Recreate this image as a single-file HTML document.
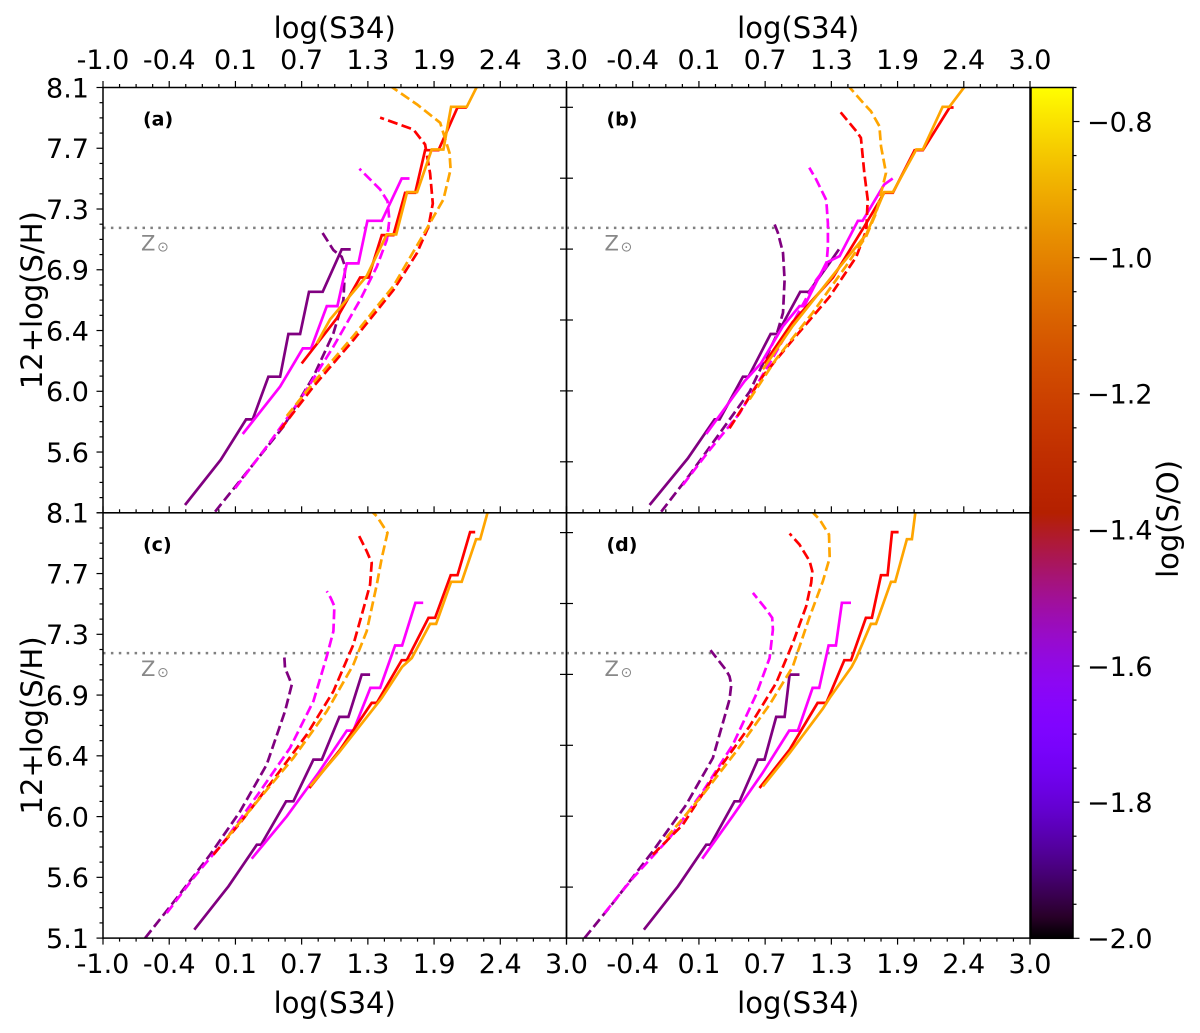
<!DOCTYPE html>
<html><head><meta charset="utf-8">
<style>
html,body{margin:0;padding:0;background:#fff;}
svg{display:block;font-family:"DejaVu Sans","Liberation Sans",sans-serif;}
</style></head>
<body>
<svg id="fig" width="1200" height="1033" viewBox="0 0 1200 1033" xmlns="http://www.w3.org/2000/svg">
<defs>
<linearGradient id="cbgrad" x1="0" y1="1" x2="0" y2="0"></linearGradient>
<clipPath id="clip-a"><rect x="103" y="87.5" width="463.5" height="425.3"/></clipPath>
<clipPath id="clip-b"><rect x="566.5" y="87.5" width="463.5" height="425.3"/></clipPath>
<clipPath id="clip-c"><rect x="103" y="512.8" width="463.5" height="425.3"/></clipPath>
<clipPath id="clip-d"><rect x="566.5" y="512.8" width="463.5" height="425.3"/></clipPath>
</defs>
</svg>
<script>
// ---- data ----
const xTickLabels = ["-1.0","-0.4","0.1","0.7","1.3","1.9","2.4","3.0"];
const yTickLabels = ["5.1","5.6","6.0","6.4","6.9","7.3","7.7","8.1"];
const cbTickValues = [-2.0,-1.8,-1.6,-1.4,-1.2,-1.0,-0.8];
const cbTickLabels = ["\u22122.0","\u22121.8","\u22121.6","\u22121.4","\u22121.2","\u22121.0","\u22120.8"];
const zsun = 7.11;
const panelNames = ["a","b","c","d"];
const seriesColors = {purple:"#800080", magenta:"#ff00ff", red:"#ff0000", orange:"#ffa500"};

const aPurpleSolid = [[-0.292,5.155],[0.016,5.473],[0.235,5.759],[0.292,5.759],[0.427,6.06],[0.528,6.06],[0.6,6.361],[0.701,6.361],[0.778,6.659],[0.896,6.659],[1.06,6.958],[1.138,6.958]];
const aPurpleDash = [[-0.033,5.108],[0.269,5.414],[0.557,5.708],[0.816,6.06],[0.988,6.366],[1.075,6.601],[1.089,6.836],[1.06,6.906],[0.988,6.953],[0.888,7.082]];
const aMagentaSolid = [[0.206,5.656],[0.528,5.99],[0.724,6.26],[0.796,6.26],[0.931,6.558],[1.023,6.558],[1.104,6.859],[1.204,6.859],[1.282,7.16],[1.406,7.16],[1.578,7.458],[1.645,7.458]];
const aMagentaDash = [[0.14,5.273],[0.413,5.567],[0.701,5.896],[0.988,6.272],[1.219,6.601],[1.363,6.836],[1.449,7.024],[1.472,7.165],[1.455,7.299],[1.391,7.381],[1.213,7.527]];
const aRedSolid = [[0.715,6.154],[1.017,6.471],[1.219,6.76],[1.291,6.76],[1.406,7.059],[1.506,7.059],[1.607,7.357],[1.694,7.357],[1.78,7.658],[1.895,7.658],[2.059,7.959],[2.14,7.959]];
const aRedDash = [[0.528,5.684],[0.816,5.99],[1.161,6.319],[1.506,6.671],[1.708,6.93],[1.809,7.118],[1.846,7.282],[1.823,7.494],[1.78,7.698],[1.679,7.804],[1.391,7.888]];
const aOrangeSolid = [[0.845,6.295],[0.96,6.464],[1.276,6.77],[1.449,7.064],[1.53,7.064],[1.624,7.362],[1.711,7.362],[1.837,7.663],[1.938,7.663],[2.004,7.964],[2.14,7.964],[2.255,8.152]];
const aOrangeDash = [[0.586,5.783],[0.816,6.018],[1.161,6.347],[1.506,6.699],[1.74,7.028],[1.938,7.31],[2.0,7.522],[1.99,7.639],[1.91,7.851],[1.711,7.98],[1.463,8.12]];

const bPurpleSolid = [[-0.283,5.155],[0.047,5.484],[0.278,5.759],[0.321,5.759],[0.522,6.06],[0.571,6.06],[0.761,6.361],[0.819,6.361],[1.017,6.659],[1.092,6.659],[1.271,6.864],[1.351,6.958]];
const bPurpleDash = [[-0.183,5.108],[0.062,5.367],[0.321,5.66],[0.58,5.954],[0.81,6.347],[0.868,6.511],[0.882,6.742],[0.868,6.934],[0.824,7.075],[0.796,7.134]];
const bMagentaSolid = [[0.206,5.656],[0.537,6.029],[0.678,6.154],[0.868,6.417],[1.011,6.558],[1.052,6.558],[1.242,6.864],[1.357,6.911],[1.515,7.16],[1.555,7.16],[1.742,7.416],[1.815,7.458]];
const bMagentaDash = [[0.004,5.296],[0.235,5.543],[0.494,5.802],[0.753,6.154],[0.951,6.436],[1.155,6.742],[1.242,6.836],[1.256,6.977],[1.256,7.141],[1.242,7.306],[1.155,7.451],[1.095,7.534]];
const bRedSolid = [[0.709,6.154],[0.951,6.445],[1.299,6.76],[1.524,7.059],[1.573,7.122],[1.742,7.357],[1.817,7.357],[2.004,7.658],[2.076,7.658],[2.306,7.959],[2.341,7.959]];
const bRedDash = [[0.407,5.696],[0.695,6.065],[0.951,6.319],[1.271,6.625],[1.501,6.906],[1.587,7.094],[1.599,7.31],[1.57,7.498],[1.541,7.745],[1.501,7.792],[1.351,7.94]];
const bOrangeSolid = [[0.695,6.112],[0.951,6.417],[1.328,6.805],[1.587,7.064],[1.742,7.362],[1.817,7.362],[2.019,7.663],[2.076,7.663],[2.246,7.964],[2.304,7.964],[2.479,8.152]];
const bOrangeDash = [[0.58,5.9],[0.807,6.182],[1.124,6.511],[1.412,6.84],[1.587,7.052],[1.673,7.216],[1.757,7.498],[1.714,7.686],[1.7,7.827],[1.627,7.933],[1.573,7.98],[1.409,8.133]];

const cPurpleSolid = [[-0.212,5.159],[0.082,5.465],[0.327,5.759],[0.364,5.759],[0.58,6.065],[0.643,6.065],[0.816,6.359],[0.888,6.359],[1.04,6.66],[1.118,6.66],[1.233,6.959],[1.305,6.959]];
const cPurpleDash = [[-0.637,5.1],[-0.364,5.382],[-0.076,5.688],[0.183,5.994],[0.413,6.324],[0.571,6.7],[0.629,6.888],[0.6,6.947],[0.571,7.006],[0.565,7.088]];
const cMagentaSolid = [[0.283,5.66],[0.586,5.959],[0.859,6.265],[1.104,6.564],[1.161,6.564],[1.308,6.865],[1.391,6.865],[1.521,7.164],[1.581,7.164],[1.696,7.465],[1.763,7.465]];
const cMagentaDash = [[-0.45,5.276],[-0.22,5.524],[0.068,5.806],[0.355,6.135],[0.614,6.441],[0.816,6.771],[0.931,7.088],[0.988,7.265],[0.997,7.441],[0.965,7.5],[0.931,7.547]];
const cRedSolid = [[0.781,6.159],[1.046,6.429],[1.319,6.759],[1.363,6.759],[1.578,7.06],[1.622,7.06],[1.809,7.359],[1.866,7.359],[2.001,7.66],[2.059,7.66],[2.168,7.964],[2.212,7.964]];
const cRedDash = [[-0.047,5.688],[0.183,5.912],[0.471,6.218],[0.758,6.535],[0.988,6.841],[1.161,7.171],[1.262,7.465],[1.305,7.594],[1.319,7.747],[1.276,7.829],[1.204,7.947]];
const cOrangeSolid = [[0.787,6.171],[1.032,6.406],[1.334,6.719],[1.406,6.794],[1.581,7.013],[1.665,7.076],[1.823,7.316],[1.875,7.316],[2.004,7.613],[2.096,7.613],[2.22,7.914],[2.255,7.914],[2.318,8.1]];
const cOrangeDash = [[0.068,5.806],[0.355,6.088],[0.643,6.371],[0.931,6.7],[1.161,7.029],[1.276,7.265],[1.363,7.594],[1.406,7.782],[1.455,7.959],[1.363,8.076],[1.265,8.15]];

const dPurpleSolid = [[-0.332,5.159],[-0.039,5.465],[0.206,5.759],[0.243,5.759],[0.45,6.065],[0.494,6.065],[0.652,6.359],[0.709,6.359],[0.81,6.66],[0.882,6.66],[0.925,6.959],[1.011,6.959]];
const dPurpleDash = [[-0.845,5.1],[-0.6,5.347],[-0.255,5.712],[0.033,6.041],[0.263,6.371],[0.407,6.782],[0.422,6.888],[0.407,6.947],[0.378,6.989],[0.243,7.131]];
const dMagentaSolid = [[0.171,5.66],[0.433,5.959],[0.692,6.265],[0.922,6.564],[0.997,6.564],[1.124,6.865],[1.181,6.865],[1.262,7.164],[1.325,7.164],[1.377,7.465],[1.455,7.465]];
const dMagentaDash = [[-0.672,5.276],[-0.427,5.524],[-0.111,5.806],[0.177,6.135],[0.436,6.465],[0.637,6.818],[0.753,7.076],[0.781,7.276],[0.775,7.359],[0.724,7.418],[0.609,7.535]];
const dRedSolid = [[0.666,6.159],[0.925,6.429],[1.167,6.759],[1.242,6.759],[1.397,7.06],[1.455,7.06],[1.584,7.359],[1.636,7.359],[1.714,7.66],[1.771,7.66],[1.809,7.964],[1.866,7.964]];
const dRedDash = [[-0.255,5.688],[0.004,5.9],[0.292,6.265],[0.58,6.594],[0.81,6.9],[0.954,7.182],[1.069,7.441],[1.112,7.606],[1.121,7.688],[1.098,7.759],[1.011,7.876],[0.925,7.954]];
const dOrangeSolid = [[0.695,6.171],[0.925,6.406],[1.213,6.719],[1.271,6.794],[1.46,7.013],[1.501,7.076],[1.627,7.316],[1.671,7.316],[1.8,7.613],[1.837,7.613],[1.938,7.914],[1.981,7.914],[2.01,8.1]];
const dOrangeDash = [[-0.14,5.806],[0.177,6.112],[0.465,6.418],[0.753,6.747],[0.951,7.012],[1.095,7.359],[1.213,7.618],[1.271,7.782],[1.265,7.947],[1.184,8.053],[1.069,8.15]];

const panelSeries = {
  a:[["purple","solid",aPurpleSolid],["purple","dash",aPurpleDash],["magenta","solid",aMagentaSolid],["magenta","dash",aMagentaDash],["red","solid",aRedSolid],["red","dash",aRedDash],["orange","solid",aOrangeSolid],["orange","dash",aOrangeDash]],
  b:[["purple","solid",bPurpleSolid],["purple","dash",bPurpleDash],["magenta","solid",bMagentaSolid],["magenta","dash",bMagentaDash],["red","solid",bRedSolid],["red","dash",bRedDash],["orange","solid",bOrangeSolid],["orange","dash",bOrangeDash]],
  c:[["purple","solid",cPurpleSolid],["purple","dash",cPurpleDash],["magenta","solid",cMagentaSolid],["magenta","dash",cMagentaDash],["red","solid",cRedSolid],["red","dash",cRedDash],["orange","solid",cOrangeSolid],["orange","dash",cOrangeDash]],
  d:[["purple","solid",dPurpleSolid],["purple","dash",dPurpleDash],["magenta","solid",dMagentaSolid],["magenta","dash",dMagentaDash],["red","solid",dRedSolid],["red","dash",dRedDash],["orange","solid",dOrangeSolid],["orange","dash",dOrangeDash]]
};

// ---- layout ----
const NS = "http://www.w3.org/2000/svg";
const svg = document.getElementById("fig");
const PW = 463.5, PH = 425.3;
const X0 = [103, 566.5], Y0 = [87.5, 512.8];
const XMIN=-1, XMAX=3, YMIN=5.1, YMAX=8.1;
const FS = 27, TFS = 29;
const panelPos = {a:[0,0], b:[1,0], c:[0,1], d:[1,1]};
function sx(p,x){ return X0[panelPos[p][0]] + (x-XMIN)/(XMAX-XMIN)*PW; }
function sy(p,y){ return Y0[panelPos[p][1]] + (YMAX-y)/(YMAX-YMIN)*PH; }
function mk(tag, attrs, parent){
  const e = document.createElementNS(NS, tag);
  for (const k in attrs) e.setAttribute(k, attrs[k]);
  (parent||svg).appendChild(e);
  return e;
}
function line(x1,y1,x2,y2,g,w,c){ return mk("line",{x1:x1,y1:y1,x2:x2,y2:y2,stroke:c||"#000","stroke-width":w||1.2},g); }
function text(x,y,s,attrs,g){ const t = mk("text",Object.assign({x:x,y:y},attrs),g); t.textContent=s; return t; }

// colorbar gradient (gnuplot colormap)
const grad = document.getElementById("cbgrad");
for (let i=0;i<=40;i++){
  const t=i/40;
  const r=Math.sqrt(t), g=t*t*t, b=Math.max(0,Math.sin(2*Math.PI*t));
  mk("stop",{offset:t,"stop-color":"rgb("+Math.round(r*255)+","+Math.round(g*255)+","+Math.round(b*255)+")"},grad);
}

const xStep = PW/7, yStep = PH/7;

panelNames.forEach(function(p){
  const g = mk("g",{});
  
  
  const px = X0[panelPos[p][0]], py = Y0[panelPos[p][1]];
  const isTop = panelPos[p][1]===0, isLeft = panelPos[p][0]===0;

  // zsun line
  const zl = line(px, sy(p,zsun), px+PW, sy(p,zsun), g, 2.5, "#808080");
  zl.setAttribute("stroke-dasharray","2.5,5.4");
  
  
  const zt = text(px+38, py+163, "Z", {"font-size":21, fill:"#888"}, g);
  
  
  const zs = text(px+54, py+164, "\u2299", {"font-size":14, fill:"#888"}, g);
  
  

  // series
  const sg = mk("g",{"clip-path":"url(#clip-"+p+")"}, g);
  panelSeries[p].forEach(function(s){
    const pts = s[2].map(function(d){ return sx(p,d[0]).toFixed(1)+","+sy(p,d[1]).toFixed(1); }).join(" ");
    const pl = mk("polyline",{points:pts, fill:"none", stroke:seriesColors[s[0]], "stroke-width":2.7, "stroke-linejoin":"miter"}, sg);
    if (s[1]==="dash") pl.setAttribute("stroke-dasharray","10,4.3");
    
    
  });

  // frame
  const fr = mk("rect",{x:px,y:py,width:PW,height:PH,fill:"none",stroke:"#000","stroke-width":1.5}, g);
  
  

  // x ticks (top & bottom)
  for (let i=0;i<=28;i++){
    const x = px + i*xStep/4, major = i%4===0;
    const L = major?6.5:3.5;
    if (isTop){ line(x,py,x,py-L,g,1.2); line(x,py+PH,x,py+PH-L,g,1.2); }
    else { line(x,py+PH,x,py+PH+L,g,1.2); }
  }
  // y ticks left
  for (let i=0;i<=28;i++){
    const y = py + i*yStep/4, major = i%4===0;
    const L = major?6.5:3.5;
    if (isLeft) line(px,y,px-L,y,g,1.2);
  }
  // right-side inner ticks
  for (let i=1;i<=6;i++){
    const y = py + 19.8 + (i-1)*70.9;
    if (isLeft) line(px+PW,y,px+PW-6.5,y,g,1.2);
    else line(px,y,px+6.5,y,g,1.2);
  }

  // x tick labels
  xTickLabels.forEach(function(lab,i){
    if (!isLeft && i===0) return;
    const x = px + i*xStep;
    const t = text(x, isTop? 69 : 973, lab, {"font-size":FS,"text-anchor":"middle",fill:"#000"}, g);
    
    
  });
  // y tick labels
  if (isLeft){
    yTickLabels.forEach(function(lab,i){
      if (isTop && i===0) return;
      const y = sy(p, YMIN + i*(YMAX-YMIN)/7);
      const t = text(89, y+9.8, lab, {"font-size":FS,"text-anchor":"end",fill:"#000"}, g);
      
      
    });
    const yl = text(0,0,"12+log(S/H)",{"font-size":TFS,"text-anchor":"middle",fill:"#000",transform:"translate(42,"+(py+PH/2)+") rotate(-90)"}, g);
    
    
  }
  // x axis title
  const xl = text(px+PW/2, isTop? 38 : 1013, "log(S34)", {"font-size":TFS,"text-anchor":"middle",fill:"#000"}, g);
  
  

  // panel letter
  const pl = text(px+40, py+38, "("+p+")", {"font-size":19,"font-weight":"bold",fill:"#000"}, g);
  
  
});

// colorbar
const CBX=1031, CBW=42, CBY=87.5, CBH=850.8, CBMIN=-2.0, CBMAX=-0.75;
function cy(v){ return CBY + (CBMAX-v)/(CBMAX-CBMIN)*CBH; }
const cbg = mk("g",{});


const cbr = mk("rect",{x:CBX,y:CBY,width:CBW,height:CBH,fill:"url(#cbgrad)",stroke:"#000","stroke-width":1.5},cbg);


for (let v=-2.0; v<=-0.749; v+=0.05){
  const y = cy(v);
  const major = Math.abs(Math.round(v*10)/10 - v) < 1e-6 && Math.round(v*10)%2===0;
  line(CBX+CBW, y, CBX+CBW+(major?6.5:3.5), y, cbg, 1.2);
}
cbTickValues.forEach(function(v,i){
  const t = text(CBX+CBW+14, cy(v)+9.8, cbTickLabels[i], {"font-size":FS,fill:"#000"}, cbg);
  
  
});
const cbl = text(0,0,"log(S/O)",{"font-size":TFS,"text-anchor":"middle",fill:"#000",transform:"translate(1178,519) rotate(-90)"},cbg);


</script>
</body></html>
